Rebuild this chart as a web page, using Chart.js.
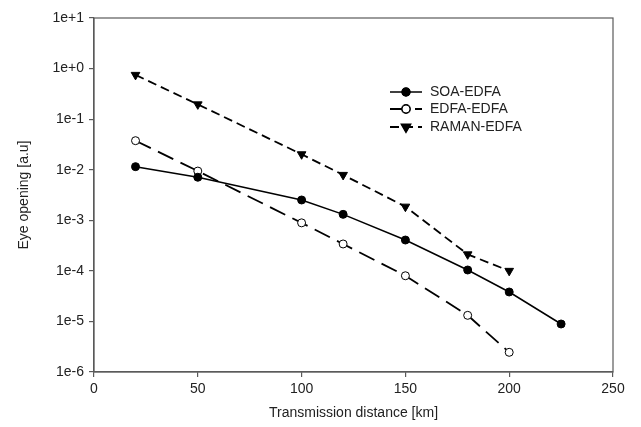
<!DOCTYPE html>
<html>
<head>
<meta charset="utf-8">
<script src="https://cdn.jsdelivr.net/npm/chart.js@4/dist/chart.umd.min.js"></script>
<style>
  html, body { margin: 0; padding: 0; background: #fff; }
  #wrap { width: 641px; height: 427px; }
</style>
</head>
<body>
<div id="wrap"><canvas id="chart" width="641" height="427"></canvas></div>
<script>
// Transmission distance [km] for each measured link
const distanceSOA   = [20, 50, 100, 120, 150, 180, 200, 225];
const distanceEDFA  = [20, 50, 100, 120, 150, 180, 200];
const distanceRAMAN = [20, 50, 100, 120, 150, 180, 200];

// Eye opening [a.u] per amplifier combination
const soaEdfa   = [0.0115, 0.0071, 0.00252, 0.00131, 4.07e-4, 1.04e-4, 3.82e-5, 8.9e-6];
const edfaEdfa  = [0.0375, 0.0094, 8.9e-4, 3.4e-4, 8.0e-5, 1.32e-5, 2.45e-6];
const ramanEdfa = [0.75, 0.196, 0.0202, 0.0079, 0.00186, 2.12e-4, 1.0e-4];

const seriesNames = ['SOA-EDFA', 'EDFA-EDFA', 'RAMAN-EDFA'];

// Axis ticks
const xTickValues = [0, 50, 100, 150, 200, 250];
const yTickValues = [1e-6, 1e-5, 1e-4, 1e-3, 1e-2, 1e-1, 1e0, 1e1];
const yTickLabels = ['1e-6', '1e-5', '1e-4', '1e-3', '1e-2', '1e-1', '1e+0', '1e+1'];

const FONT = "'Liberation Sans', Arial, sans-serif";
const AXIS_COLOR = '#5a5a5a';
const TEXT_COLOR = '#222';

function toPoints(xs, ys) {
  return xs.map((x, i) => ({ x: x, y: ys[i] }));
}

// Frame around the plotting area (top and right sides included)
const framePlugin = {
  id: 'frame',
  afterDatasetsDraw(chart) {
    const { ctx, chartArea: a } = chart;
    ctx.save();
    ctx.strokeStyle = AXIS_COLOR;
    ctx.lineWidth = 1.2;
    ctx.strokeRect(a.left, a.top, a.right - a.left, a.bottom - a.top);
    ctx.restore();
  }
};

// Legend showing each series' line style with its marker in the middle
const lineLegendPlugin = {
  id: 'lineLegend',
  afterDraw(chart) {
    const { ctx } = chart;
    const x0 = 390, x1 = 422, textX = 430;
    const rows = [92, 109, 127];
    ctx.save();
    chart.data.datasets.forEach((ds, i) => {
      const y = rows[i];
      ctx.strokeStyle = ds.borderColor;
      ctx.lineWidth = ds.borderWidth;
      ctx.setLineDash(ds.borderDash || []);
      ctx.beginPath();
      ctx.moveTo(x0, y);
      ctx.lineTo(x1, y);
      ctx.stroke();
      ctx.setLineDash([]);
      Chart.helpers.drawPoint(ctx, {
        pointStyle: ds.pointStyle,
        rotation: ds.pointRotation || 0,
        radius: ds.pointRadius,
        borderWidth: ds.pointBorderWidth
      }, (x0 + x1) / 2, y);
      ctx.fillStyle = ds.pointBackgroundColor;
      ctx.strokeStyle = ds.pointBorderColor;
      ctx.lineWidth = ds.pointBorderWidth;
      ctx.fill();
      ctx.stroke();
      ctx.fillStyle = TEXT_COLOR;
      ctx.font = '14px ' + FONT;
      ctx.textBaseline = 'middle';
      ctx.textAlign = 'left';
      ctx.fillText(ds.label, textX, y);
    });
    ctx.restore();
  }
};

new Chart(document.getElementById('chart'), {
  type: 'line',
  data: {
    datasets: [
      {
        label: seriesNames[0],
        data: toPoints(distanceSOA, soaEdfa),
        borderColor: '#000',
        borderWidth: 1.5,
        pointStyle: 'circle',
        pointRadius: 4,
        pointBorderWidth: 1,
        pointBackgroundColor: '#000',
        pointBorderColor: '#000'
      },
      {
        label: seriesNames[1],
        data: toPoints(distanceEDFA, edfaEdfa),
        borderColor: '#000',
        borderWidth: 1.8,
        borderDash: [17, 8],
        pointStyle: 'circle',
        pointRadius: 4,
        pointBorderWidth: 1,
        pointBackgroundColor: '#fff',
        pointBorderColor: '#000'
      },
      {
        label: seriesNames[2],
        data: toPoints(distanceRAMAN, ramanEdfa),
        borderColor: '#000',
        borderWidth: 1.8,
        borderDash: [9, 5],
        pointStyle: 'triangle',
        pointRotation: 180,
        pointRadius: 5,
        pointBorderWidth: 1,
        pointBackgroundColor: '#000',
        pointBorderColor: '#000'
      }
    ]
  },
  options: {
    responsive: false,
    animation: false,
    devicePixelRatio: 1,
    layout: { padding: { left: 0, right: 28, top: 18, bottom: 0 } },
    plugins: {
      legend: { display: false },
      tooltip: { enabled: false }
    },
    elements: { line: { tension: 0, fill: false } },
    scales: {
      x: {
        type: 'linear',
        min: 0,
        max: 250,
        afterBuildTicks(scale) {
          scale.ticks = xTickValues.map(v => ({ value: v }));
        },
        afterFit(scale) { scale.height = 55; },
        grid: {
          display: true,
          drawOnChartArea: false,
          drawTicks: true,
          tickLength: 5,
          color: AXIS_COLOR,
          lineWidth: 1.2
        },
        border: { display: true, color: AXIS_COLOR, width: 1.2 },
        ticks: {
          color: TEXT_COLOR,
          font: { family: FONT, size: 14 },
          padding: 4,
          maxRotation: 0,
          callback: v => String(v)
        },
        title: {
          display: true,
          text: 'Transmission distance [km]',
          color: TEXT_COLOR,
          font: { family: FONT, size: 14 },
          padding: { top: 0, bottom: 5 }
        }
      },
      y: {
        type: 'logarithmic',
        min: 1e-6,
        max: 1e1,
        afterBuildTicks(scale) {
          scale.ticks = yTickValues.map(v => ({ value: v }));
        },
        afterFit(scale) { scale.width = 94; },
        grid: {
          display: true,
          drawOnChartArea: false,
          drawTicks: true,
          tickLength: 5,
          color: AXIS_COLOR,
          lineWidth: 1.2
        },
        border: { display: true, color: AXIS_COLOR, width: 1.2 },
        ticks: {
          color: TEXT_COLOR,
          font: { family: FONT, size: 14 },
          padding: 5,
          autoSkip: false,
          callback: function (value) {
            const idx = yTickValues.findIndex(t => Math.abs(Math.log10(t) - Math.log10(value)) < 1e-6);
            return idx >= 0 ? yTickLabels[idx] : '';
          }
        },
        title: {
          display: true,
          text: 'Eye opening [a.u]',
          color: TEXT_COLOR,
          font: { family: FONT, size: 14 },
          padding: { top: 16, bottom: 0 }
        }
      }
    }
  },
  plugins: [framePlugin, lineLegendPlugin]
});
</script>
</body>
</html>
